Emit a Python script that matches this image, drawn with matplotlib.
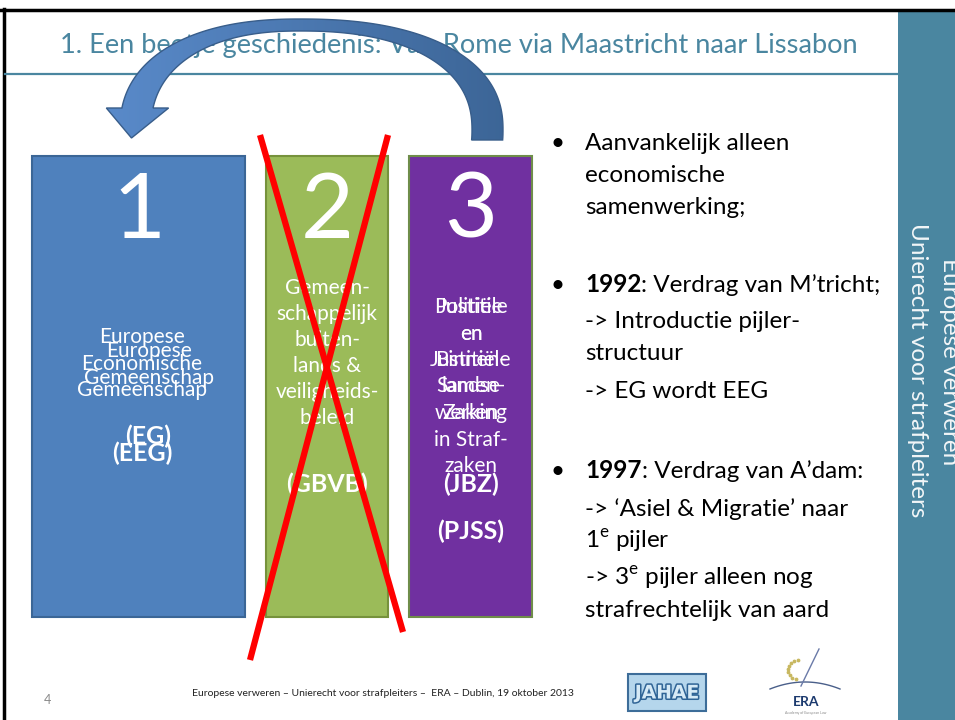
import numpy as np
import matplotlib.pyplot as plt
from matplotlib.patches import Rectangle, Polygon
from matplotlib.colors import LinearSegmentedColormap
import matplotlib.patheffects as pe

plt.rcParams['font.family'] = ['Lato', 'DejaVu Sans']
plt.rcParams['mathtext.fontset'] = 'custom'
plt.rcParams['mathtext.rm'] = 'Lato'

TEAL = '#4a86a0'

# slide texts
title = '1. Een beetje geschiedenis: Van Rome via Maastricht naar Lissabon'
side_lines = ['Europese verweren', 'Unierecht voor strafpleiters']
footer = 'Europese verweren – Unierecht voor strafpleiters –  ERA – Dublin, 19 oktober 2013'
page_no = '4'

# the three pillars
pillar_nums = ['1', '2', '3']
pillar_face = ['#4f81bd', '#9bbb59', '#7030a0']
pillar_edge = ['#3b6696', '#76923c', '#6f8d4a']
pillar1_a = ['Europese', 'Economische', 'Gemeenschap']
pillar1_b = ['Europese', 'Gemeenschap']
pillar2_txt = ['Gemeen-', 'schappelijk', 'buiten-', 'lands &', 'veiligheids-', 'beleid']
pillar3_a = ['Politiële', 'en', 'Justitiële', 'Samen-', 'werking', 'in Straf-', 'zaken']
pillar3_b = ['Justitie', 'en', 'Binnen-', 'landse', 'Zaken']
abbrevs = [['(EG)', '(EEG)'], ['(GBVB)'], ['(JBZ)', '(PJSS)']]

# right column bullets: (bullet?, bold part, rest)
bullets = [
    (True, '', 'Aanvankelijk alleen'),
    (False, '', 'economische'),
    (False, '', 'samenwerking;'),
    (True, '1992', ': Verdrag van M’tricht;'),
    (False, '', '-> Introductie pijler-'),
    (False, '', 'structuur'),
    (False, '', '-> EG wordt EEG'),
    (True, '1997', ': Verdrag van A’dam:'),
    (False, '', '-> ‘Asiel & Migratie’ naar'),
    (False, '', '1$^{\\mathrm{e}}$ pijler'),
    (False, '', '-> 3$^{\\mathrm{e}}$ pijler alleen nog'),
    (False, '', 'strafrechtelijk van aard'),
]
bullet_base = [150, 182, 214, 292, 328, 360, 398, 478, 516, 548, 585, 617]

W, H = 955, 720
fig = plt.figure(figsize=(9.55, 7.2), dpi=100)
ax = fig.add_axes([0, 0, 1, 1])
ax.axis('off')

# frame, sidebar, title
ax.add_patch(Rectangle((898, 11), 60, 720, facecolor=TEAL, edgecolor='none', zorder=1))
ax.plot([0, W], [9.5, 9.5], color='black', lw=2.5, zorder=2)
ax.plot([4, 4], [9, H], color='black', lw=2.5, zorder=2)
ax.plot([5, 898], [74, 74], color=TEAL, lw=1.6, zorder=2)
ax.text(60, 53, title, fontsize=19.6, color=TEAL, ha='left', va='baseline', zorder=3)
ax.text(917, 370, side_lines[1], rotation=270, fontsize=17.5, color='#f2f6f8',
        ha='center', va='center', zorder=3)
ax.text(949, 362, side_lines[0], rotation=270, fontsize=17.5, color='#f2f6f8',
        ha='center', va='center', zorder=3)

# pillars
px = [32, 266, 409]
pw = [213, 122, 123]
for i in range(3):
    ax.add_patch(Rectangle((px[i], 156), pw[i], 461, facecolor=pillar_face[i],
                           edgecolor=pillar_edge[i], lw=1.5, zorder=3))
    ax.text(px[i] + pw[i] / 2, 212, pillar_nums[i], fontsize=66, color='white',
            ha='center', va='center', zorder=4)

body = dict(fontsize=15, color='white', ha='center', va='baseline', zorder=4)
for k, s in enumerate(pillar1_a):
    ax.text(142, 343 + 26.5 * k, s, **body)
for k, s in enumerate(pillar1_b):
    ax.text(149, 357 + 27 * k, s, **body)
for k, s in enumerate(pillar2_txt):
    ax.text(327, 294 + 26 * k, s, **body)
for k, s in enumerate(pillar3_a):
    ax.text(471, 313 + 26.5 * k, s, **body)
for k, s in enumerate(pillar3_b):
    ax.text(471, 313 + 26.5 * k, s, **body)

bold = dict(fontsize=18, color='white', ha='center', va='baseline', weight='bold', zorder=4)
ax.text(148, 444, abbrevs[0][0], **bold)
ax.text(142, 461, abbrevs[0][1], **bold)
ax.text(327, 492, abbrevs[1][0], **bold)
ax.text(471, 492, abbrevs[2][0], **bold)
ax.text(471, 539, abbrevs[2][1], **bold)

# red cross over pillar 2
ax.plot([260, 403], [135, 632], color='#ff0000', lw=4.5, solid_capstyle='butt', zorder=8)
ax.plot([388, 250], [135, 660], color='#ff0000', lw=4.5, solid_capstyle='butt', zorder=8)

# curved arrow from pillar 3 back to pillar 1 (flattened arc, thin on top)
cx, cy = 300, 130


def sarc(rx_l, rx_r, ry, n, y_right, y_left, reverse=False, steps=160):
    e = n / 2.0
    t_r = -np.arcsin(((y_right - cy) / ry) ** e)
    t_l = np.pi - np.arcsin(((cy - y_left) / ry) ** e)
    t = np.linspace(t_r, t_l, steps)
    c, s = np.cos(t), np.sin(t)
    rx = np.where(c >= 0, rx_r, rx_l)
    x = cx + rx * np.sign(c) * np.abs(c) ** (1 / e)
    y = cy - ry * np.sign(s) * np.abs(s) ** (1 / e)
    p = np.column_stack([x, y])
    return p[::-1] if reverse else p


outer = sarc(180, 203, 111, 2.3, 140, 108)
inner = sarc(149, 172, 99, 2.3, 140, 108, reverse=True)
po, pi = outer[-1], inner[0]
mid = (po + pi) / 2
head = np.array([po + (po - pi) * 0.5, mid + np.array([-6, 30]), pi + (pi - po) * 0.5])
pts = np.vstack([outer, head, inner])
poly = Polygon(pts, closed=True, facecolor='none', edgecolor='#385d8a', lw=1, zorder=7)
ax.add_patch(poly)
cmap = LinearSegmentedColormap.from_list('arr', ['#5a8bcb', '#3c6596'])
im = ax.imshow(np.linspace(0, 1, 256).reshape(1, -1), extent=[95, 510, 145, 12],
               cmap=cmap, aspect='auto', zorder=6)
im.set_clip_path(poly)

# bullets
fs = 17.5
for (is_b, b, rest), yb in zip(bullets, bullet_base):
    if is_b:
        ax.text(550, yb, '•', fontsize=fs, color='black', ha='left', va='baseline', zorder=4)
    if b:
        t = ax.text(585, yb, b, fontsize=fs, weight='bold', color='black',
                    ha='left', va='baseline', zorder=4)
        ax.annotate(rest, xy=(1, 0), xycoords=t, fontsize=fs, color='black',
                    ha='left', va='bottom', zorder=4)
    else:
        ax.text(585, yb, rest, fontsize=fs, color='black', ha='left', va='baseline', zorder=4)

# footer
ax.text(47, 700, page_no, fontsize=9, color='#8a8a8a', ha='center', va='center')
ax.text(192, 693, footer, fontsize=7.5, color='#222222', ha='left', va='center')
ax.add_patch(Rectangle((628, 674), 78, 37, facecolor='#b5d6ec', edgecolor='#3d6d99', lw=1.5, zorder=3))
ax.text(667, 693, 'JAHAE', fontsize=13.5, weight='bold', family='DejaVu Sans', color='#d6eaf6',
        ha='center', va='center', zorder=4,
        path_effects=[pe.withStroke(linewidth=2.2, foreground='#2f6496')])
sx = np.linspace(770, 840, 50)
ax.plot(sx, 689 - 7 * (1 - ((sx - 805) / 35) ** 2), color='#4a5f8a', lw=1)
ax.plot([819, 801], [649, 686], color='#6a7aa8', lw=1)
st = np.radians(np.linspace(100, 250, 9))
ax.scatter(800 + 12 * np.cos(st), 670 - 10 * np.sin(st), s=3, color='#c8b860', zorder=4)
ax.text(806, 702, 'ERA', fontsize=10, weight='bold', color='#1c3a6e', ha='center', va='center')
ax.text(806, 713, 'Academy of European Law', fontsize=2.5, color='#888888', ha='center', va='center')

ax.set_xlim(0, W)
ax.set_ylim(H, 0)
fig.savefig('out.png', dpi=100)
